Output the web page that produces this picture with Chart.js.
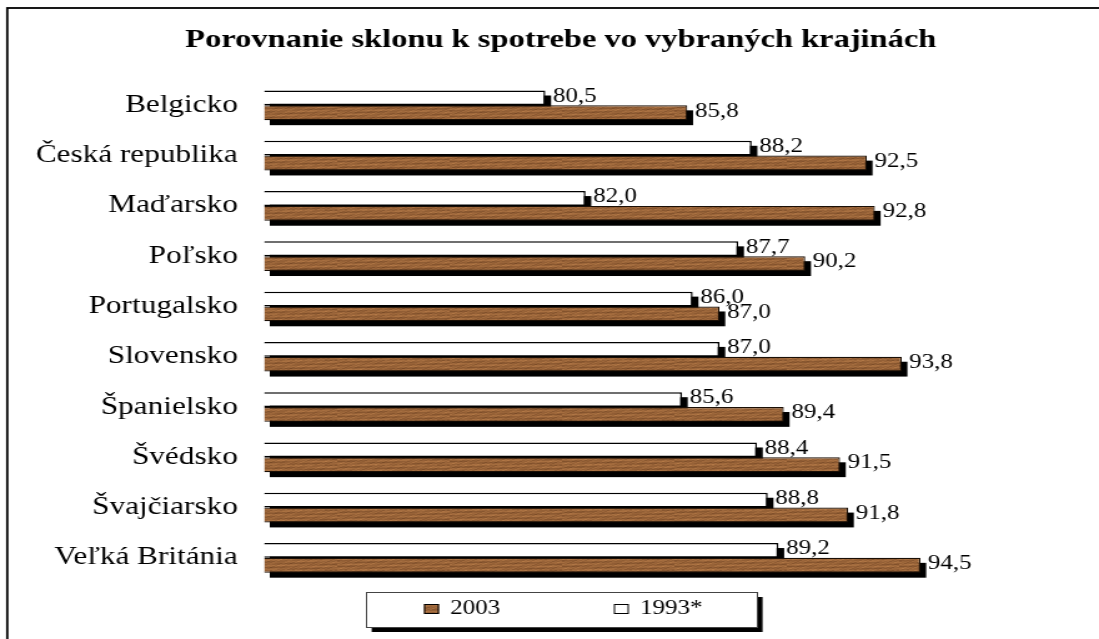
<!DOCTYPE html>
<html>
<head>
<meta charset="utf-8">
<script src="https://cdn.jsdelivr.net/npm/chart.js@4"></script>
<style>
  html, body { margin: 0; padding: 0; background: #fff; overflow: hidden; }
  #myChart { display: block; }
</style>
</head>
<body>
<!-- drawn at 880px wide and stretched to 1099px, like the original picture -->
<canvas id="myChart" width="880" height="639" style="width:1099px;height:639px"></canvas>
<script>
var categories = ['Belgicko', 'Česká republika', 'Maďarsko', 'Poľsko', 'Portugalsko', 'Slovensko', 'Španielsko', 'Švédsko', 'Švajčiarsko', 'Veľká Británia'];
var values1993 = [80.5, 88.2, 82.0, 87.7, 86.0, 87.0, 85.6, 88.4, 88.8, 89.2];
var values2003 = [85.8, 92.5, 92.8, 90.2, 87.0, 93.8, 89.4, 91.5, 91.8, 94.5];
var seriesLabels = ['1993*', '2003'];

var SHADOW_X = 4.6, SHADOW_Y = 5;

// brown "wood" fill like the old office chart
function woodPattern() {
  var c = document.createElement('canvas');
  c.width = 90; c.height = 15;
  var g = c.getContext('2d');
  for (var y = 0; y < c.height; y++) {
    for (var x = 0; x < c.width; x += 2) {
      var v = Math.sin(x * 0.13 + y * 2.1) * 0.45 + Math.sin(x * 0.041 - y * 1.3) * 0.35 +
              Math.sin(x * 1.7 + y * 3.7) * 0.3 + Math.sin(x * 0.67 - y * 5.3) * 0.2;
      var r = Math.round(152 + v * 24), gg = Math.round(99 + v * 19), b = Math.round(56 + v * 13);
      g.fillStyle = 'rgb(' + r + ',' + gg + ',' + b + ')';
      g.fillRect(x, y, 2, 1);
    }
  }
  return g.createPattern(c, 'repeat');
}
var wood = woodPattern();

function fmt(v) { return v.toFixed(1).replace('.', ','); }

var frameAndShadows = {
  id: 'frameAndShadows',
  afterLayout: function(chart) {
    // let the long country names reach past the padding without being clipped
    chart.scales.y.left = 0;
  },
  beforeDraw: function(chart) {
    var ctx = chart.ctx;
    ctx.save();
    ctx.strokeStyle = '#000';
    ctx.lineWidth = 1.8;
    ctx.strokeRect(5.8, 8, chart.width + 20, chart.height + 20);
    ctx.restore();
  },
  beforeDatasetsDraw: function(chart) {
    var ctx = chart.ctx;
    ctx.save();
    ctx.fillStyle = '#000';
    chart.data.datasets.forEach(function(ds, i) {
      chart.getDatasetMeta(i).data.forEach(function(bar) {
        var p = bar.getProps(['x', 'y', 'base', 'height'], true);
        ctx.fillRect(p.base + SHADOW_X, p.y - p.height / 2 + SHADOW_Y, p.x - p.base, p.height);
      });
    });
    ctx.restore();
  },
  afterDatasetsDraw: function(chart) {
    var ctx = chart.ctx;
    ctx.save();
    ctx.fillStyle = '#000';
    ctx.font = '20px "Liberation Serif"';
    ctx.textAlign = 'left';
    ctx.textBaseline = 'middle';
    chart.data.datasets.forEach(function(ds, i) {
      chart.getDatasetMeta(i).data.forEach(function(bar, j) {
        var p = bar.getProps(['x', 'y'], true);
        ctx.fillText(fmt(ds.data[j]), p.x + SHADOW_X + 1.5, p.y - 1.5);
      });
    });
    ctx.restore();
  },
  afterDraw: function(chart) {
    // framed legend with a drop shadow, 2003 first
    var ctx = chart.ctx;
    var bx = 293, by = 592, bw = 313, bh = 35;
    ctx.save();
    ctx.fillStyle = '#000';
    ctx.fillRect(bx + SHADOW_X, by + SHADOW_Y, bw, bh);
    ctx.fillStyle = '#fff';
    ctx.fillRect(bx, by, bw, bh);
    ctx.strokeStyle = '#444';
    ctx.lineWidth = 1;
    ctx.strokeRect(bx + 0.5, by + 0.5, bw, bh);
    var items = [1, 0];
    var xs = [339.5, 491.5];
    ctx.font = '20px "Liberation Serif"';
    ctx.textBaseline = 'middle';
    ctx.textAlign = 'left';
    items.forEach(function(di, k) {
      var ds = chart.data.datasets[di];
      ctx.fillStyle = ds.backgroundColor;
      ctx.fillRect(xs[k], 604, 12, 10);
      ctx.strokeStyle = '#000';
      ctx.lineWidth = 1;
      ctx.strokeRect(xs[k] + 0.5, 604.5, 11, 9);
      ctx.fillStyle = '#000';
      ctx.fillText(ds.label, xs[k] + 21, 609);
    });
    ctx.restore();
  }
};

var ctx = document.getElementById('myChart');
var myChart = new Chart(ctx, {
  type: 'bar',
  data: {
    labels: categories,
    datasets: [
      {
        label: seriesLabels[0],
        data: values1993,
        backgroundColor: '#ffffff',
        borderColor: '#000000',
        borderWidth: 1.5
      }, {
        label: seriesLabels[1],
        data: values2003,
        backgroundColor: wood,
        borderColor: '#1a0f06',
        borderWidth: 1.2
      }
    ]
  },
  options: {
    indexAxis: 'y',
    responsive: false,
    devicePixelRatio: 1,
    animation: false,
    datasets: {
      bar: { categoryPercentage: 0.59, barPercentage: 1.0, base: 70 }
    },
    layout: {
      padding: { left: 43, right: 25, top: 0, bottom: 56 }
    },
    plugins: {
      legend: { display: false },
      tooltip: { enabled: false },
      title: {
        display: true,
        text: 'Porovnanie sklonu k spotrebe vo vybraných krajinách',
        color: '#000',
        font: { family: '"Liberation Serif"', size: 26, weight: 'bold' },
        padding: { top: 25, bottom: 24 }
      }
    },
    scales: {
      x: {
        display: false,
        min: 70,
        max: 100
      },
      y: {
        grid: { display: false },
        border: { display: false },
        ticks: {
          color: '#000',
          padding: 13,
          font: { family: '"Liberation Serif"', size: 25 }
        },
        afterFit: function(scale) {
          scale.width = 168.4;
        }
      }
    }
  },
  plugins: [frameAndShadows]
});
</script>
</body>
</html>
